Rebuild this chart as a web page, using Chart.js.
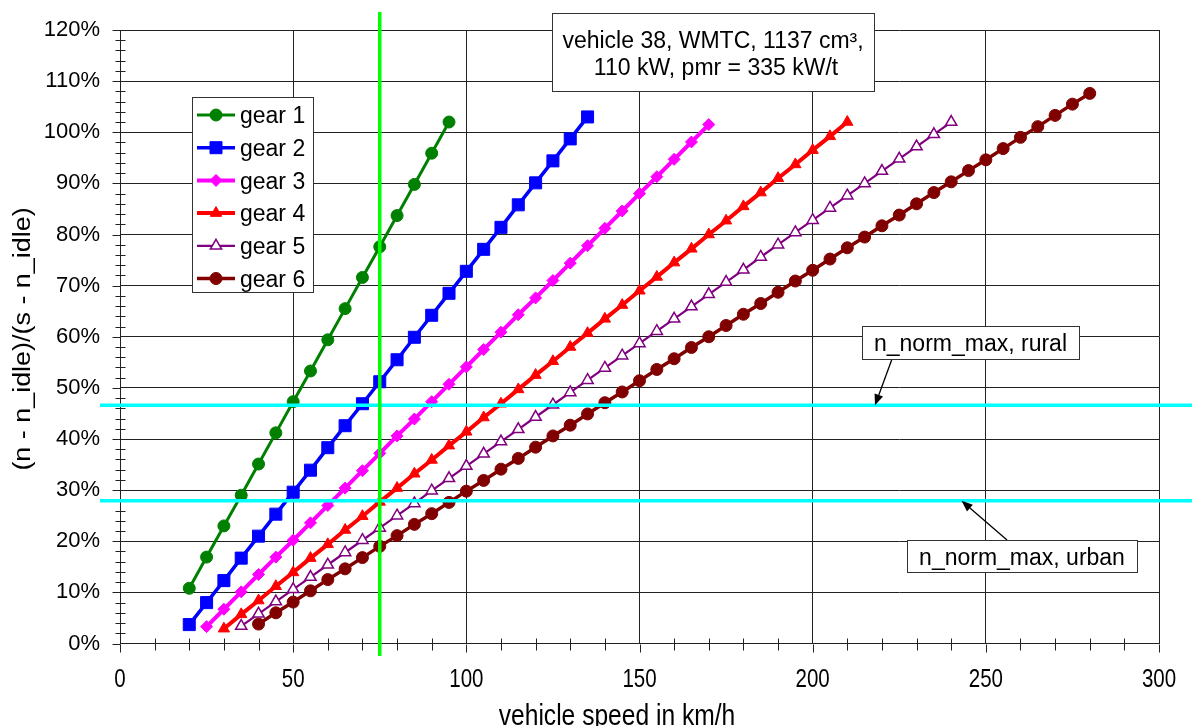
<!DOCTYPE html>
<html>
<head>
<meta charset="utf-8">
<script src="https://cdn.jsdelivr.net/npm/chart.js@4.4.1/dist/chart.umd.min.js"></script>
<style>
  html, body { margin: 0; padding: 0; background: #ffffff; }
  #wrap { width: 1192px; height: 726px; }
</style>
</head>
<body>
<div id="wrap"><canvas id="c" width="1192" height="726"></canvas></div>
<script>
// ---- data ----
const gearNames = ['gear 1', 'gear 2', 'gear 3', 'gear 4', 'gear 5', 'gear 6'];

const speed1 = [20,25,30,35,40,45,50,55,60,65,70,75,80,85,90,95];
const gear1  = [10.8,16.9,23.0,29.0,35.1,41.2,47.3,53.3,59.4,65.5,71.6,77.6,83.7,89.8,95.9,102.0];

const speed2 = [20,25,30,35,40,45,50,55,60,65,70,75,80,85,90,95,100,105,110,115,120,125,130,135];
const gear2  = [3.7,8.0,12.3,16.7,21.0,25.3,29.6,33.9,38.3,42.6,46.9,51.2,55.5,59.9,64.2,68.5,72.8,77.1,81.4,85.8,90.1,94.4,98.7,103.0];

const speed3 = [25,30,35,40,45,50,55,60,65,70,75,80,85,90,95,100,105,110,115,120,125,130,135,140,145,150,155,160,165,170];
const gear3  = [3.3,6.7,10.1,13.5,16.9,20.2,23.6,27.0,30.4,33.8,37.2,40.6,43.9,47.3,50.7,54.1,57.5,60.9,64.3,67.6,71.0,74.4,77.8,81.2,84.6,88.0,91.3,94.7,98.1,101.5];

const speed4 = [30,35,40,45,50,55,60,65,70,75,80,85,90,95,100,105,110,115,120,125,130,135,140,145,150,155,160,165,170,175,180,185,190,195,200,205,210];
const gear4  = [2.9,5.7,8.4,11.2,13.9,16.7,19.4,22.2,24.9,27.7,30.4,33.2,35.9,38.7,41.4,44.2,46.9,49.7,52.5,55.2,58.0,60.7,63.5,66.2,69.0,71.7,74.5,77.2,80.0,82.7,85.5,88.2,91.0,93.7,96.5,99.2,102.0];

const speed5 = [35,40,45,50,55,60,65,70,75,80,85,90,95,100,105,110,115,120,125,130,135,140,145,150,155,160,165,170,175,180,185,190,195,200,205,210,215,220,225,230,235,240];
const gear5  = [3.4,5.8,8.2,10.6,13.0,15.4,17.8,20.2,22.6,25.0,27.4,29.9,32.3,34.7,37.1,39.5,41.9,44.3,46.7,49.1,51.5,53.9,56.3,58.7,61.1,63.5,65.9,68.3,70.7,73.1,75.6,78.0,80.4,82.8,85.2,87.6,90.0,92.4,94.8,97.2,99.6,102.0];

const speed6 = [40,45,50,55,60,65,70,75,80,85,90,95,100,105,110,115,120,125,130,135,140,145,150,155,160,165,170,175,180,185,190,195,200,205,210,215,220,225,230,235,240,245,250,255,260,265,270,275,280];
const gear6  = [3.8,6.0,8.1,10.3,12.5,14.6,16.8,19.0,21.1,23.3,25.4,27.6,29.8,31.9,34.1,36.2,38.4,40.6,42.7,44.9,47.1,49.2,51.4,53.6,55.7,57.9,60.0,62.2,64.4,66.5,68.7,70.9,73.0,75.2,77.4,79.5,81.7,83.8,86.0,88.2,90.3,92.5,94.6,96.8,99.0,101.1,103.3,105.5,107.6];

const vLineSpeed = 75;          // km/h, green vertical marker
const nNormMaxRural = 46.6;     // %
const nNormMaxUrban = 27.9;     // %

const xTickLabels = [0, 50, 100, 150, 200, 250, 300];
const yTickLabels = [0,10,20,30,40,50,60,70,80,90,100,110,120];

const titleLines = ['vehicle 38, WMTC, 1137 cm\u00B3,', '110 kW, pmr = 335 kW/t'];
const xTitle = 'vehicle speed in km/h';
const yTitle = '(n - n_idle)/(s - n_idle)';
const ruralLabel = 'n_norm_max, rural';
const urbanLabel = 'n_norm_max, urban';

// ---- styles ----
const FONT = "'Liberation Sans', Arial, sans-serif";
const styles = [
  { color: '#008000', fill: '#008000', point: 'circle',   r: 6,   lw: 3,   bw: 1 },
  { color: '#0000FF', fill: '#0000FF', point: 'rect',     r: 8.5, lw: 3.5, bw: 1 },
  { color: '#FF00FF', fill: '#FF00FF', point: 'rectRot',  r: 6,   lw: 4,   bw: 1 },
  { color: '#FF0000', fill: '#FF0000', point: 'triangle', r: 6.5, lw: 4,   bw: 1 },
  { color: '#800080', fill: '#FFFFFF', point: 'triangle', r: 6.5, lw: 2.2, bw: 1.5 },
  { color: '#800000', fill: '#800000', point: 'circle',   r: 6,   lw: 3.5, bw: 1 }
];
const speeds = [speed1, speed2, speed3, speed4, speed5, speed6];
const values = [gear1, gear2, gear3, gear4, gear5, gear6];

const datasets = gearNames.map((name, i) => ({
  label: name,
  data: speeds[i].map((s, j) => ({ x: s, y: values[i][j] })),
  borderColor: styles[i].color,
  backgroundColor: styles[i].fill,
  borderWidth: styles[i].lw,
  pointStyle: styles[i].point,
  pointRadius: styles[i].r,
  pointBorderWidth: styles[i].bw,
  pointBorderColor: styles[i].color,
  pointBackgroundColor: styles[i].fill,
  fill: false,
  tension: 0,
  showLine: true
}));

function marker(ctx, style, r, x, y, fill, stroke, bw) {
  ctx.save();
  ctx.fillStyle = fill; ctx.strokeStyle = stroke; ctx.lineWidth = bw;
  ctx.beginPath();
  if (style === 'circle') {
    ctx.arc(x, y, r, 0, Math.PI * 2);
  } else if (style === 'rect') {
    const s = Math.SQRT1_2 * r;
    ctx.rect(x - s, y - s, 2 * s, 2 * s);
  } else if (style === 'rectRot') {
    ctx.moveTo(x, y - r); ctx.lineTo(x + r, y); ctx.lineTo(x, y + r); ctx.lineTo(x - r, y);
    ctx.closePath();
  } else if (style === 'triangle') {
    let a = 0;
    ctx.moveTo(x + Math.sin(a) * r, y - Math.cos(a) * r);
    a += 2 * Math.PI / 3;
    ctx.lineTo(x + Math.sin(a) * r, y - Math.cos(a) * r);
    a += 2 * Math.PI / 3;
    ctx.lineTo(x + Math.sin(a) * r, y - Math.cos(a) * r);
    ctx.closePath();
  }
  ctx.fill(); ctx.stroke();
  ctx.restore();
}

function arrow(ctx, x1, y1, x2, y2) {
  ctx.save();
  ctx.strokeStyle = '#000'; ctx.fillStyle = '#000'; ctx.lineWidth = 1.3;
  const ang = Math.atan2(y2 - y1, x2 - x1);
  const hl = 11, hw = 4.5;
  const bx = x2 - Math.cos(ang) * hl, by = y2 - Math.sin(ang) * hl;
  ctx.beginPath(); ctx.moveTo(x1, y1); ctx.lineTo(bx, by); ctx.stroke();
  ctx.beginPath();
  ctx.moveTo(x2, y2);
  ctx.lineTo(bx + Math.sin(ang) * hw, by - Math.cos(ang) * hw);
  ctx.lineTo(bx - Math.sin(ang) * hw, by + Math.cos(ang) * hw);
  ctx.closePath(); ctx.fill();
  ctx.restore();
}

function textBox(ctx, x1, y1, x2, y2) {
  ctx.save();
  ctx.fillStyle = '#fff'; ctx.fillRect(x1, y1, x2 - x1, y2 - y1);
  ctx.strokeStyle = '#333'; ctx.lineWidth = 1;
  ctx.strokeRect(Math.round(x1) + 0.5, Math.round(y1) + 0.5, x2 - x1, y2 - y1);
  ctx.restore();
}

// condensed text helper (the reference x-axis text is horizontally condensed)
function condensedText(ctx, text, x, y, size, sx) {
  ctx.save();
  ctx.translate(x, y); ctx.scale(sx, 1);
  ctx.font = size + 'px ' + FONT;
  ctx.fillText(text, 0, 0);
  ctx.restore();
}

const decor = {
  id: 'decor',
  afterDraw(chart) {
    const ctx = chart.ctx;
    const xs = chart.scales.x, ys = chart.scales.y;
    const ca = chart.chartArea;
    const ax = Math.round(ca.left) + 0.5, ay = Math.round(ca.bottom) + 0.5;

    // minor + major ticks
    ctx.save();
    ctx.strokeStyle = '#222'; ctx.lineWidth = 1;
    ctx.beginPath();
    for (let v = 0; v <= 120; v += 2) {
      const y = Math.round(ys.getPixelForValue(v)) + 0.5;
      const big = v % 10 === 0;
      ctx.moveTo(ax - (big ? 8 : 5), y); ctx.lineTo(ax + (big ? 0 : 5), y);
    }
    for (let v = 0; v <= 300; v += 10) {
      const x = Math.round(xs.getPixelForValue(v)) + 0.5;
      const big = v % 50 === 0;
      ctx.moveTo(x, ay - (big ? 0 : 6)); ctx.lineTo(x, ay + (big ? 8 : 6));
    }
    ctx.stroke();
    ctx.restore();

    // x tick labels (from the x scale's ticks), condensed
    ctx.save();
    ctx.fillStyle = '#000'; ctx.textAlign = 'center'; ctx.textBaseline = 'alphabetic';
    xs.ticks.forEach((t, i) => {
      condensedText(ctx, String(t.value), xs.getPixelForTick(i), 687, 25, 0.82);
    });
    ctx.restore();

    // cyan n_norm_max lines
    ctx.save();
    ctx.strokeStyle = '#00FFFF'; ctx.lineWidth = 3.5;
    [nNormMaxRural, nNormMaxUrban].forEach(v => {
      const y = ys.getPixelForValue(v);
      ctx.beginPath(); ctx.moveTo(100, y); ctx.lineTo(1192, y); ctx.stroke();
    });
    // green vertical line
    ctx.strokeStyle = '#00FF00'; ctx.lineWidth = 3.5;
    const gx = xs.getPixelForValue(vLineSpeed);
    ctx.beginPath(); ctx.moveTo(gx, 12); ctx.lineTo(gx, 656); ctx.stroke();
    ctx.restore();

    // legend
    textBox(ctx, 192, 97, 313, 292);
    ctx.save();
    ctx.font = '23px ' + FONT; ctx.fillStyle = '#000'; ctx.textBaseline = 'alphabetic';
    gearNames.forEach((name, i) => {
      const cy = 115 + i * 32.7;
      const st = styles[i];
      ctx.strokeStyle = st.color; ctx.lineWidth = st.lw;
      ctx.beginPath(); ctx.moveTo(197, cy); ctx.lineTo(235, cy); ctx.stroke();
      marker(ctx, st.point, st.r, 216, cy, st.fill, st.color, st.bw);
      ctx.fillText(name, 240, cy + 8.3);
    });
    ctx.restore();

    // title box
    textBox(ctx, 552, 13, 874, 91);
    ctx.save();
    ctx.font = '23px ' + FONT; ctx.fillStyle = '#000'; ctx.textAlign = 'center';
    ctx.fillText(titleLines[0], 713, 47.5);
    ctx.fillText(titleLines[1], 716, 75);
    ctx.restore();

    // annotation boxes + arrows
    arrow(ctx, 892, 359, xs.getPixelForValue(218), ys.getPixelForValue(nNormMaxRural));
    arrow(ctx, 1007, 540, xs.getPixelForValue(243), ys.getPixelForValue(nNormMaxUrban));
    textBox(ctx, 862, 326, 1079, 359);
    textBox(ctx, 907, 540, 1137, 572);
    ctx.save();
    ctx.font = '23px ' + FONT; ctx.fillStyle = '#000'; ctx.textAlign = 'center';
    ctx.fillText(ruralLabel, 970.5, 350.5);
    ctx.fillText(urbanLabel, 1022, 565);
    ctx.restore();

    // axis titles
    ctx.save();
    ctx.fillStyle = '#000'; ctx.textAlign = 'center';
    condensedText(ctx, xTitle, 617, 725, 30, 0.82);
    ctx.translate(30, 339); ctx.rotate(-Math.PI / 2); ctx.scale(1.17, 1);
    ctx.font = '23px ' + FONT;
    ctx.fillText(yTitle, 0, 0);
    ctx.restore();
  }
};

new Chart(document.getElementById('c'), {
  type: 'line',
  data: { datasets },
  options: {
    responsive: false,
    animation: false,
    devicePixelRatio: 1,
    layout: { padding: { left: 0, right: 33, top: 30, bottom: 0 } },
    plugins: { legend: { display: false }, tooltip: { enabled: false }, title: { display: false } },
    scales: {
      x: {
        type: 'linear', min: 0, max: 300,
        afterFit(s) { s.height = 82.5; s.paddingLeft = 0; s.paddingRight = 0; },
        afterBuildTicks(s) { s.ticks = xTickLabels.map(v => ({ value: v })); },
        grid: { color: '#222', lineWidth: 1, drawTicks: false },
        border: { color: '#222', width: 1 },
        ticks: { display: false }
      },
      y: {
        min: 0, max: 120,
        afterFit(s) { s.width = 120; s.paddingTop = 0; s.paddingBottom = 0; },
        afterBuildTicks(s) { s.ticks = yTickLabels.map(v => ({ value: v })); },
        grid: { color: '#222', lineWidth: 1, drawTicks: false },
        border: { color: '#222', width: 1 },
        ticks: { color: '#000', padding: 20, font: { family: FONT, size: 22 }, callback: v => v + '%' }
      }
    }
  },
  plugins: [decor]
});
</script>
</body>
</html>
